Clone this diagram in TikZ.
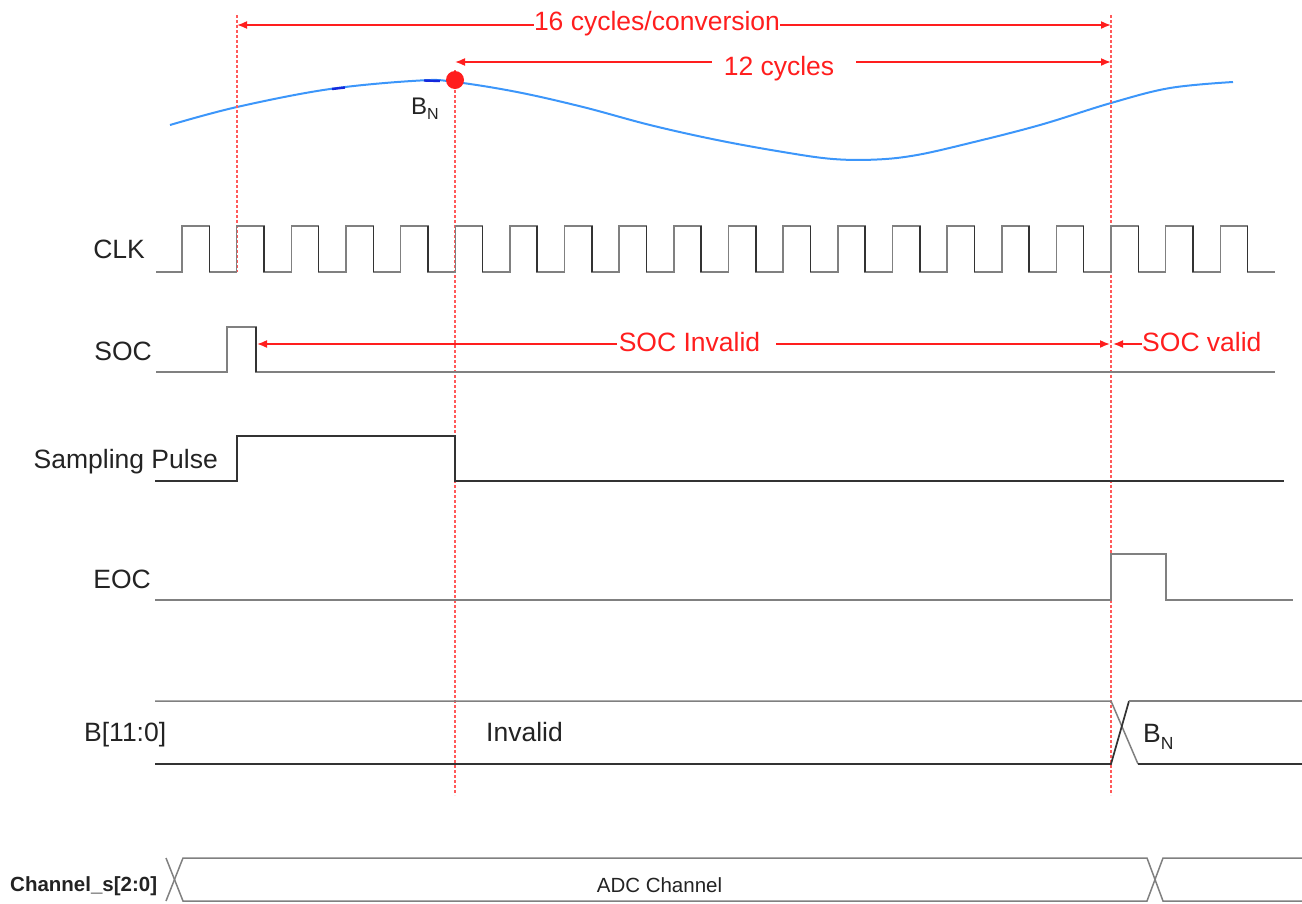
\documentclass[tikz,border=0pt]{standalone}
\usepackage{fontspec}
\setmainfont{Liberation Sans}
\usetikzlibrary{arrows.meta}
\definecolor{sred}{RGB}{255,30,30}
\definecolor{gred}{RGB}{255,90,90}
\definecolor{wave}{RGB}{60,150,250}
\definecolor{wavedark}{RGB}{20,40,220}
\definecolor{txt}{RGB}{35,35,35}
\begin{document}
\begin{tikzpicture}[x=1pt,y=-1pt,
  sig/.style={draw=black!50, line width=1.5pt},
  dark/.style={draw=black!80, line width=1.7pt},
  guide/.style={draw=gred, line width=1.2pt, dash pattern=on 2.5pt off 2.5pt},
  redarrow/.style={draw=sred, line width=1.6pt, -{Latex[length=10pt,width=8pt]}},
  lbl/.style={font=\fontsize{26.5}{30}\selectfont, text=txt, inner sep=0pt},
  rlbl/.style={font=\fontsize{26.5}{30}\selectfont, text=sred, inner sep=0pt},
  slbl/.style={font=\fontsize{20.5}{24}\selectfont, text=txt, inner sep=0pt}]
\useasboundingbox (0,0) rectangle (1302,903);

% ---- analog waveform
\draw[wave, line width=2pt] plot[smooth, tension=0.6] coordinates {
  (170,125) (237,107) (330,89) (420,80.5) (455,82) (517,92) (583,107) (650,125)
  (717,140) (783,152) (833,159) (877,159.5) (917,155) (970,143) (1040,125)
  (1111,103) (1170,88) (1233,82)};
\draw[wavedark, line width=2.4pt] (332,89) -- (345,87.5);
\draw[wavedark, line width=2.4pt] (424,80.5) -- (440,81);

% ---- red guide lines
\coordinate (gA0) at (237,15);  \coordinate (gA1) at (237,272);
\coordinate (gB0) at (455,70);  \coordinate (gB1) at (455,795);
\coordinate (gC0) at (1111,15); \coordinate (gC1) at (1111,795);
\draw[guide] (gA0) -- (gA1);
\draw[guide] (gB0) -- (gB1);
\draw[guide] (gC0) -- (gC1);

% sample point
\node[circle, fill=sred, minimum size=18pt, inner sep=0pt] (dot) at (455,80) {};
\node[font=\fontsize{24}{26}\selectfont, text=txt, inner sep=0pt, anchor=base west] (bn1) at (411,114)
  {B\raisebox{-5pt}{\fontsize{16}{16}\selectfont N}};

% ---- dimension arrows
\node[rlbl, anchor=base] (t16) at (657,30) {16 cycles/conversion};
\coordinate (a16L) at (237,25); \coordinate (a16R) at (1111,25);
\draw[redarrow] (t16.west |- a16L) -- (a16L);
\draw[redarrow] (t16.east |- a16R) -- (a16R);

\node[rlbl, anchor=base] (t12) at (779,75) {12 cycles};
\coordinate (a12L) at (455,62); \coordinate (a12R) at (1111,62);
\draw[redarrow] ([xshift=-12pt]t12.west |- a12L) -- (a12L);
\draw[redarrow] ([xshift=22pt]t12.east |- a12R) -- (a12R);

% ---- signal labels
\node[lbl, anchor=base east] (lclk) at (145,258) {CLK};
\node[lbl, anchor=base east] (lsoc) at (152,360) {SOC};
\node[lbl, anchor=base east] (lsp) at (218,468) {Sampling Pulse};
\node[lbl, anchor=base east] (leoc) at (151,588) {EOC};
\node[lbl, anchor=base west] (lb) at (84,741) {B[11:0]};
\node[lbl, anchor=base west] (linv) at (486,741) {Invalid};
\node[font=\fontsize{26.5}{30}\selectfont, text=txt, inner sep=0pt, anchor=base west] (bn2) at (1143,742)
  {B\raisebox{-7pt}{\fontsize{17.5}{17.5}\selectfont N}};
\node[slbl, font=\fontsize{20.5}{24}\selectfont\bfseries, anchor=base west] (lch) at (10,891) {Channel\_s[2:0]};
\node[slbl, anchor=base] (ladc) at (659.5,892) {ADC Channel};

% ---- CLK
\draw[sig] (156,272)
  \foreach \i in {0,...,19} { -- ({182+54.65*\i},272) -- ++(0,-46) -- ++(27.3,0) -- ++(0,46) }
  -- (1275,272);
\foreach \i in {0,...,19} { \draw[dark, line width=1.5pt] ({209.3+54.65*\i},226) -- ++(0,46); }

% ---- SOC
\draw[sig] (156,372) -- (227,372) -- (227,327) -- (256,327) -- (256,372) -- (1275,372);
\draw[dark, line width=1.5pt] (256,327) -- (256,372);
\node[rlbl, anchor=base] (tsi) at (689.5,351) {SOC Invalid};
\coordinate (sL) at (257,344); \coordinate (sR) at (1110,344); \coordinate (sV) at (1113,344);
\draw[redarrow] ([xshift=-2pt]tsi.west |- sL) -- (sL);
\draw[redarrow] ([xshift=16pt]tsi.east |- sR) -- (sR);
\node[rlbl, anchor=base west] (tsv) at (1142,351) {SOC valid};
\draw[redarrow] (tsv.west |- sV) -- (sV);

% ---- Sampling pulse
\draw[dark] (155,481) -- (237,481) -- (237,436) -- (455,436) -- (455,481) -- (1284,481);

% ---- EOC
\draw[sig] (155,600) -- (1111,600) -- (1111,554) -- (1166,554) -- (1166,600) -- (1293,600);

% ---- B[11:0]
\draw[sig] (155,701) -- (1111,701) -- (1138,764);
\draw[dark] (155,764) -- (1111,764) -- (1129,701);
\draw[sig] (1129,701) -- (1302,701);
\draw[dark] (1138,764) -- (1302,764);

% ---- Channel_s
\draw[sig] (166,858) -- (183,901) -- (1147,901) -- (1163,858) -- (1302,858);
\draw[sig] (166,901) -- (183,858) -- (1147,858) -- (1163,901) -- (1302,901);
\end{tikzpicture}
\end{document}
